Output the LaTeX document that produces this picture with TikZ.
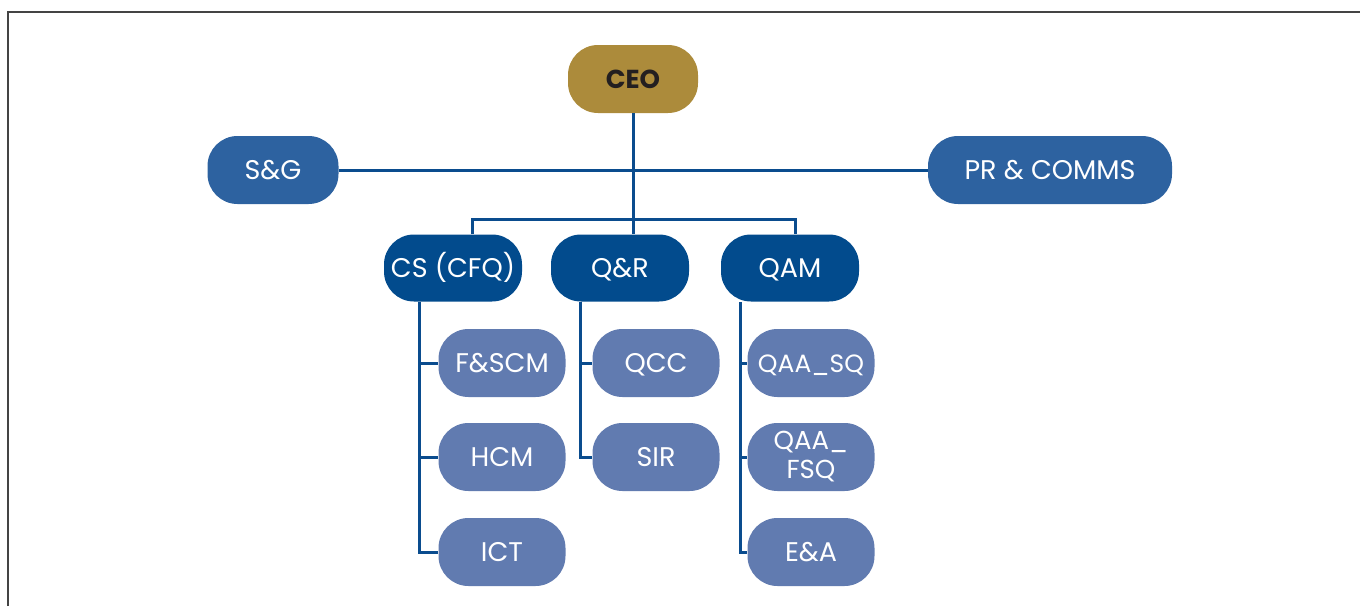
\documentclass[tikz,border=0pt]{standalone}
\usepackage{fontspec}
\setmainfont{Poppins}
\definecolor{gold}{HTML}{AC8B3B}
\definecolor{ceotext}{HTML}{231F20}
\definecolor{lvltwo}{HTML}{2D62A0}
\definecolor{lvlthree}{HTML}{024B8D}
\definecolor{lvlfour}{HTML}{617BB0}
\definecolor{conn}{HTML}{0A4C8E}
\definecolor{frame}{HTML}{444444}
\begin{document}
\begin{tikzpicture}[x=1pt,y=-1pt,
  box/.style={rounded corners=30pt, inner sep=0pt, align=center, text=white,
    font=\fontsize{27}{32}\selectfont, text height=19pt, text depth=0pt},
  ceobox/.style={box, fill=gold, text=ceotext, minimum width=130pt, minimum height=68pt,
    font=\fontsize{26}{30}\selectfont\bfseries},
  twobox/.style={box, fill=lvltwo, minimum height=68pt},
  threebox/.style={box, fill=lvlthree, minimum width=138pt, minimum height=67pt},
  fourbox/.style={box, fill=lvlfour, minimum width=127pt, minimum height=68pt},
  link/.style={draw=conn, line width=3pt}]
\useasboundingbox (0,0) rectangle (1360,606);
\draw[frame, line width=1.5pt] (8,606) -- (8,12) -- (1360,12);

\node[ceobox] (ceo) at (633,79) {CEO};
\node[twobox, minimum width=131pt] (sg) at (273,170) {S\&G};
\node[twobox, minimum width=244pt] (pr) at (1050,170) {PR \& COMMS};

\node[threebox] (cs) at (453,268) {CS (CFQ)};
\node[threebox] (qr) at (620,268) {Q\&R};
\node[threebox] (qam) at (790,268) {QAM};

\node[fourbox] (fscm) at (502,363) {F\&SCM};
\node[fourbox] (hcm) at (502,457) {HCM};
\node[fourbox] (ict) at (502,552) {ICT};
\node[fourbox] (qcc) at (656,363) {QCC};
\node[fourbox] (sir) at (656,457) {SIR};
\node[fourbox, font=\fontsize{25}{30}\selectfont] (qaasq) at (811,363) {QAA\_SQ};
\node[fourbox, font=\fontsize{26}{29}\selectfont, text height=, text depth=] (qaafsq) at (811,457) {QAA\_\\FSQ};
\node[fourbox] (ea) at (811,552) {E\&A};

\coordinate (busl) at (472,219);
\coordinate (busr) at (795,219);
\coordinate (busm) at (633,219);
\coordinate (csv) at (419,302);
\coordinate (qrv) at (580,302);
\coordinate (qamv) at (740,302);

\draw[link] (sg.east) -- (pr.west);
\draw[link] (ceo.south) -- (busm) -- (busm |- qr.north);
\draw[link] (busl |- cs.north) -- (busl) -- (busr) -- (busr |- qam.north);

\draw[link] (csv) -- (csv |- ict.west) -- (ict.west);
\draw[link] (csv |- fscm.west) -- (fscm.west);
\draw[link] (csv |- hcm.west) -- (hcm.west);
\draw[link] (qrv) -- (qrv |- sir.west) -- (sir.west);
\draw[link] (qrv |- qcc.west) -- (qcc.west);
\draw[link] (qamv) -- (qamv |- ea.west) -- (ea.west);
\draw[link] (qamv |- qaasq.west) -- (qaasq.west);
\draw[link] (qamv |- qaafsq.west) -- (qaafsq.west);
\end{tikzpicture}
\end{document}
